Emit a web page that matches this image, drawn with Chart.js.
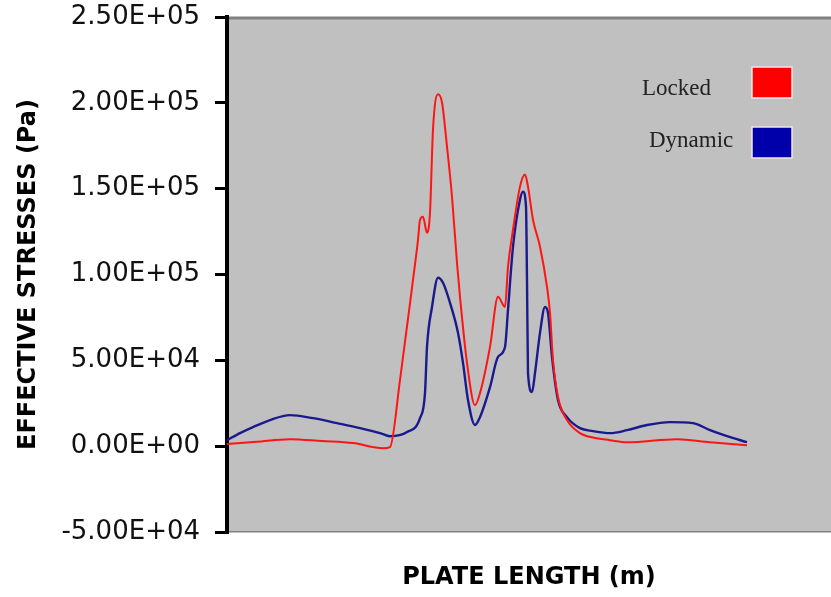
<!DOCTYPE html>
<html>
<head>
<meta charset="utf-8">
<script src="https://cdn.jsdelivr.net/npm/chart.js@4.4.1/dist/chart.umd.min.js"></script>
<style>
  html, body { margin: 0; padding: 0; background: #ffffff; }
  #wrap { width: 831px; height: 597px; }
</style>
</head>
<body>
<div id="wrap"><canvas id="c" width="831" height="597"></canvas></div>
<script>
// ---- data ----
const seriesNames = ['Locked', 'Dynamic'];
const yTickValues = [-50000, 0, 50000, 100000, 150000, 200000, 250000];
const yTickLabels = ['-5.00E+04', '0.00E+00', '5.00E+04', '1.00E+05', '1.50E+05', '2.00E+05', '2.50E+05'];
const xAxisTitle = 'PLATE LENGTH (m)';
const yAxisTitle = 'EFFECTIVE STRESSES (Pa)';

const lockedX = [0, 30, 63, 95, 126, 156, 163, 173, 186, 191, 193, 196, 200, 203, 206, 211, 215, 220, 225, 230, 233, 240, 248, 253, 263, 271, 278, 281, 286, 293, 298, 301, 306, 313, 320, 323, 326, 331, 340, 353, 366, 383, 400, 450, 483, 520];
const lockedY = [1200, 2600, 4100, 3000, 1800, -1200, -500, 38500, 96900, 120200, 131900, 133700, 124300, 136000, 184500, 205000, 200200, 174500, 145400, 106800, 87000, 48500, 23900, 30900, 57800, 87000, 81100, 104500, 126100, 151200, 158200, 151200, 131900, 116200, 92800, 77600, 50200, 28600, 15200, 7600, 5000, 3500, 2300, 4100, 2300, 600];

const dynamicX = [0, 13, 26, 43, 63, 86, 110, 133, 153, 163, 180, 193, 198, 200, 205, 211, 216, 223, 231, 236, 241, 248, 253, 263, 271, 278, 281, 286, 293, 296, 299, 300, 301, 305, 308, 313, 318, 321, 325, 331, 340, 353, 366, 383, 400, 420, 443, 466, 483, 500, 520];
const dynamicY = [3500, 7600, 11100, 15200, 18100, 16300, 13400, 10500, 7600, 5800, 8200, 16300, 30900, 57800, 81100, 98100, 95200, 83500, 66000, 48500, 26900, 12300, 16900, 34400, 52000, 57800, 79400, 116200, 143600, 148300, 139500, 96900, 42600, 31500, 42600, 66000, 81100, 77600, 52000, 26900, 16900, 10500, 8800, 7600, 9300, 12300, 14000, 13400, 9300, 5800, 2300];

const seriesColors = ['#ff1414', '#1a1a8c'];
const legendBoxColors = ['#ff0000', '#0000aa'];

const toPoints = (xs, ys) => xs.map((x, i) => ({ x: x, y: ys[i] }));

// ---- plugins ----
const plotBackground = {
  id: 'plotBackground',
  beforeDraw(chart) {
    const { ctx, chartArea: a } = chart;
    ctx.save();
    ctx.fillStyle = '#c0c0c0';
    ctx.fillRect(a.left, a.top, a.right - a.left, a.bottom - a.top);
    ctx.strokeStyle = '#808080';
    ctx.lineWidth = 3;
    ctx.beginPath();
    ctx.moveTo(a.left, a.top + 1);
    ctx.lineTo(a.right, a.top + 1);
    ctx.stroke();
    ctx.restore();
  }
};

const sideLegend = {
  id: 'sideLegend',
  afterDatasetsDraw(chart) {
    const { ctx, chartArea: a } = chart;
    const items = chart.data.datasets;
    const layout = [
      { tx: a.right - 189, ty: a.top + 78, bx: a.right - 79, by: a.top + 50 },
      { tx: a.right - 182, ty: a.top + 130, bx: a.right - 79, by: a.top + 110 }
    ];
    ctx.save();
    ctx.font = '23px "Liberation Serif", "Times New Roman", serif';
    ctx.textAlign = 'left';
    ctx.textBaseline = 'alphabetic';
    items.forEach((ds, i) => {
      const p = layout[i];
      ctx.fillStyle = '#222222';
      ctx.fillText(ds.label, p.tx, p.ty);
      ctx.fillStyle = ds.legendColor;
      ctx.fillRect(p.bx, p.by, 40, 31);
      ctx.strokeStyle = '#f4e4e4';
      ctx.lineWidth = 1.5;
      ctx.strokeRect(p.bx, p.by, 40, 31);
    });
    ctx.restore();
  }
};

new Chart(document.getElementById('c'), {
  type: 'line',
  data: {
    datasets: [
      {
        label: seriesNames[0],
        data: toPoints(lockedX, lockedY),
        borderColor: seriesColors[0],
        legendColor: legendBoxColors[0],
        borderWidth: 2,
        pointRadius: 0,
        cubicInterpolationMode: 'monotone',
        fill: false
      },
      {
        label: seriesNames[1],
        data: toPoints(dynamicX, dynamicY),
        borderColor: seriesColors[1],
        legendColor: legendBoxColors[1],
        borderWidth: 2.4,
        pointRadius: 0,
        cubicInterpolationMode: 'monotone',
        fill: false
      }
    ]
  },
  options: {
    responsive: false,
    animation: false,
    devicePixelRatio: 1,
    layout: { padding: { left: 0, right: 0, top: 17, bottom: 0 } },
    plugins: {
      legend: { display: false },
      tooltip: { enabled: false }
    },
    scales: {
      x: {
        type: 'linear',
        min: 0,
        max: 604,
        grid: { display: false },
        ticks: { display: false },
        border: { display: true, color: '#808080', width: 1.5 },
        title: {
          display: true,
          text: xAxisTitle,
          color: '#000000',
          font: { family: '"DejaVu Sans", sans-serif', size: 24, weight: 'bold' },
          padding: { top: 0, bottom: 5 }
        },
        afterFit(scale) {
          scale.height = 65;
          scale.paddingLeft = 0;
          scale.paddingRight = 0;
        }
      },
      y: {
        type: 'linear',
        min: -50000,
        max: 250000,
        afterBuildTicks(scale) {
          scale.ticks = yTickValues.map(v => ({ value: v }));
        },
        ticks: {
          color: '#111111',
          padding: 15,
          font: { family: '"DejaVu Sans", sans-serif', size: 26 },
          callback: (value) => {
            const i = yTickValues.indexOf(value);
            return i >= 0 ? yTickLabels[i] : '';
          }
        },
        grid: {
          drawOnChartArea: false,
          drawTicks: true,
          tickLength: 12,
          color: '#000000',
          lineWidth: 3
        },
        border: { display: true, color: '#000000', width: 4 },
        title: {
          display: true,
          text: yAxisTitle,
          color: '#000000',
          font: { family: '"DejaVu Sans", sans-serif', size: 24, weight: 'bold' },
          padding: { top: 14, bottom: 0 }
        },
        afterFit(scale) {
          scale.width = 227;
          scale.paddingTop = 0;
          scale.paddingBottom = 0;
        }
      }
    }
  },
  plugins: [plotBackground, sideLegend]
});
</script>
</body>
</html>
